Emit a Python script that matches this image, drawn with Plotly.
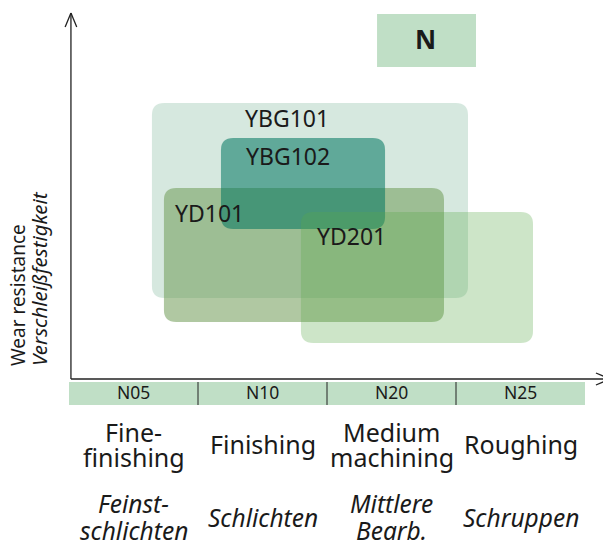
import plotly.graph_objects as go

# application ranges along the x axis (one unit per range)
ranges = ["N05", "N10", "N20", "N25"]
ops_en = ["Fine-<br>finishing", "Finishing", "Medium<br>machining", "Roughing"]
ops_de = ["Feinst-<br>schlichten", "Schlichten", "Mittlere<br>Bearb.", "Schruppen"]

# grades: x from/to (application range), y from/to (wear resistance)
grades = ["YBG101", "YD101", "YBG102", "YD201"]
grade_x0 = [0.643, 0.736, 1.178, 1.798]
grade_x1 = [3.093, 2.907, 2.450, 3.597]
grade_y0 = [0.81, 0.57, 1.50, 0.36]
grade_y1 = [2.76, 1.91, 2.41, 1.67]
grade_lx = [1.690, 1.089, 1.698, 2.191]
grade_ly = [2.615, 1.663, 2.235, 1.43]
grade_col = ["rgba(120,180,150,0.30)", "rgba(112,155,86,0.55)",
             "rgba(0,116,94,0.55)", "rgba(88,168,72,0.30)"]

FONT = "Noto Sans"
BAND = "#c0dfc6"
INK = "#1a1a1a"


def rounded_rect(x0, x1, y0, y1, rx=0.095, ry=0.12):
    return (f"M {x0+rx},{y0} L {x1-rx},{y0} Q {x1},{y0} {x1},{y0+ry} "
            f"L {x1},{y1-ry} Q {x1},{y1} {x1-rx},{y1} "
            f"L {x0+rx},{y1} Q {x0},{y1} {x0},{y1-ry} "
            f"L {x0},{y0+ry} Q {x0},{y0} {x0+rx},{y0} Z")


def stacked(text, x, y_mid, step, size, italic=False):
    # one annotation per line, so the line spacing can be set
    lines = text.split("<br>")
    top = y_mid + step * (len(lines) - 1) / 2
    out = []
    for k, ln in enumerate(lines):
        t = "<i>" + ln + "</i>" if italic else ln
        out.append(dict(x=x, y=top - k * step, text=t, showarrow=False,
                        font=dict(family=FONT, size=size, color=INK)))
    return out


fig = go.Figure()
shapes = []
annots = []

for i in range(len(grades)):
    shapes.append(dict(type="path", xref="x", yref="y",
                       path=rounded_rect(grade_x0[i], grade_x1[i], grade_y0[i], grade_y1[i]),
                       fillcolor=grade_col[i], line=dict(width=0)))
    annots.append(dict(x=grade_lx[i], y=grade_ly[i], text=grades[i], showarrow=False,
                       font=dict(family=FONT, size=23, color=INK)))

# axes with open arrow heads
ax0 = 0.015
line = dict(color="#222222", width=1.3)
shapes += [
    dict(type="line", x0=ax0, x1=ax0, y0=0, y1=3.66, line=line),
    dict(type="line", x0=ax0, x1=ax0 - 0.045, y0=3.66, y1=3.52, line=line),
    dict(type="line", x0=ax0, x1=ax0 + 0.045, y0=3.66, y1=3.52, line=line),
    dict(type="line", x0=ax0, x1=4.195, y0=0, y1=0, line=line),
    dict(type="line", x0=4.195, x1=4.085, y0=0, y1=0.06, line=line),
    dict(type="line", x0=4.195, x1=4.085, y0=0, y1=-0.06, line=line),
]

# range band
shapes.append(dict(type="rect", x0=0, x1=len(ranges), y0=-0.26, y1=-0.03,
                   fillcolor=BAND, line=dict(width=0)))
for i in range(1, len(ranges)):
    shapes.append(dict(type="line", x0=i, x1=i, y0=-0.26, y1=-0.03,
                       line=dict(color="#222222", width=1)))
for i, r in enumerate(ranges):
    annots.append(dict(x=i + 0.5, y=-0.125, text=r, showarrow=False,
                       font=dict(family=FONT, size=17.5, color=INK)))

for i in range(len(ops_en)):
    annots += stacked(ops_en[i], i + 0.5, -0.65, 0.25, 25)
    annots += stacked(ops_de[i], i + 0.5, -1.38, 0.265, 24.5, italic=True)

# material group box
shapes.append(dict(type="rect", x0=2.388, x1=3.155, y0=3.12, y1=3.65,
                   fillcolor=BAND, line=dict(width=0)))
annots.append(dict(x=2.767, y=3.40, text="<b>N</b>", showarrow=False,
                   font=dict(family=FONT, size=26, color=INK)))

# y axis title
annots.append(dict(x=-0.395, y=0.11, text="Wear resistance", textangle=-90,
                   showarrow=False, yanchor="bottom",
                   font=dict(family=FONT, size=19, color=INK)))
annots.append(dict(x=-0.236, y=0.11, text="<i>Verschleißfestigkeit</i>", textangle=-90,
                   showarrow=False, yanchor="bottom",
                   font=dict(family=FONT, size=20.5, color=INK)))

# the page body has an 8px margin: the figure covers page pixels 8..611 x 8..545
fig.update_layout(
    width=603, height=537, autosize=False,
    margin=dict(l=0, r=0, t=0, b=0, pad=0),
    paper_bgcolor="white", plot_bgcolor="white",
    xaxis=dict(range=[(8 - 69) / 129, (611 - 69) / 129], visible=False, fixedrange=True),
    yaxis=dict(range=[(379 - 545) / 100, (379 - 8) / 100], visible=False, fixedrange=True),
    shapes=shapes, annotations=annots, showlegend=False,
)

fig.write_html("out.html")
